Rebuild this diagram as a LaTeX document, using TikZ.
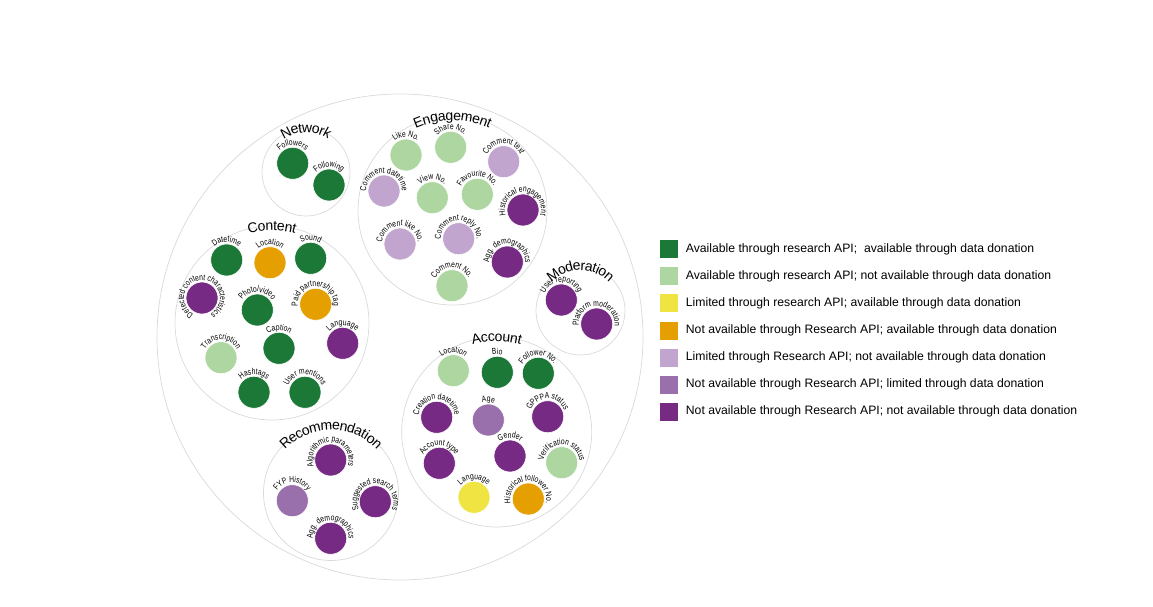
\documentclass[tikz,border=0pt]{standalone}
\usepackage{fontspec}
\setmainfont{Liberation Sans}
\newfontfamily\labelfont{Liberation Sans}[FakeStretch=0.78]
\usetikzlibrary{positioning,decorations.text}
\definecolor{dkgreen}{HTML}{1B7837}
\definecolor{ltgreen}{HTML}{AED6A1}
\definecolor{ylw}{HTML}{F0E442}
\definecolor{orng}{HTML}{E69F00}
\definecolor{ltpurple}{HTML}{C2A5CF}
\definecolor{mdpurple}{HTML}{9970AB}
\definecolor{dkpurple}{HTML}{762A83}
\tikzset{
  groupring/.style={circle,draw=black!15,line width=0.7pt,inner sep=0pt,outer sep=0pt},
  attrdot/.style={circle,draw=white,line width=0.6pt,minimum size=32pt,inner sep=0pt},
  attrlabel/.style={postaction={decorate},decoration={text along path,text align=center,text={|\labelfont\fontsize{8.6}{9}\selectfont|#1}}},
  grouptitle/.style={postaction={decorate},decoration={text along path,text align=center,raise=-4.5pt,text={|\fontsize{14}{16}\selectfont|#1}}},
  legendbox/.style={minimum size=18pt,inner sep=0pt},
  legendtext/.style={font=\fontsize{12.2}{14}\selectfont,inner sep=0pt,anchor=west,text height=1.5ex,text depth=.3ex}
}
\begin{document}
\begin{tikzpicture}[x=1pt,y=1pt]
\useasboundingbox (0,0) rectangle (1153,606);
% packed circles
\node[groupring,minimum size=486pt] (whole) at (400,269) {};
\node[groupring,minimum size=88pt] (network) at (306,434) {};
\node[groupring,minimum size=189pt] (engagement) at (452.5,395.5) {};
\node[groupring,minimum size=194pt] (content) at (272,283) {};
\node[groupring,minimum size=89pt] (moderation) at (580.5,295.5) {};
\node[groupring,minimum size=190pt] (account) at (496.7,174) {};
\node[groupring,minimum size=135pt] (recommendation) at (331,113) {};
\path[grouptitle={Network}] ([shift={(265:44pt)}]network.center) arc[start angle=265,end angle=-85,radius=44pt];
\path[grouptitle={Engagement}] ([shift={(265:94.5pt)}]engagement.center) arc[start angle=265,end angle=-85,radius=94.5pt];
\path[grouptitle={Content}] ([shift={(265:97pt)}]content.center) arc[start angle=265,end angle=-85,radius=97pt];
\path[grouptitle={Moderation}] ([shift={(265:44.5pt)}]moderation.center) arc[start angle=265,end angle=-85,radius=44.5pt];
\path[grouptitle={Account}] ([shift={(265:95pt)}]account.center) arc[start angle=265,end angle=-85,radius=95pt];
\path[grouptitle={Recommendation}] ([shift={(265:67.5pt)}]recommendation.center) arc[start angle=265,end angle=-85,radius=67.5pt];
% network
\node[attrdot,fill=dkgreen] (net-followers) at (292.7,442.7) {};
\path[attrlabel={Followers}] ([shift={(265:18pt)}]net-followers.center) arc[start angle=265,end angle=-85,radius=18pt];
\node[attrdot,fill=dkgreen] (net-following) at (329,421) {};
\path[attrlabel={Following}] ([shift={(265:18pt)}]net-following.center) arc[start angle=265,end angle=-85,radius=18pt];
% engagement
\node[attrdot,fill=ltgreen] (eng-like) at (406,451) {};
\path[attrlabel={Like No.}] ([shift={(265:18pt)}]eng-like.center) arc[start angle=265,end angle=-85,radius=18pt];
\node[attrdot,fill=ltgreen] (eng-share) at (450.7,458.7) {};
\path[attrlabel={Share No.}] ([shift={(265:18pt)}]eng-share.center) arc[start angle=265,end angle=-85,radius=18pt];
\node[attrdot,fill=ltpurple] (eng-ctext) at (503.7,444.3) {};
\path[attrlabel={Comment text}] ([shift={(265:18pt)}]eng-ctext.center) arc[start angle=265,end angle=-85,radius=18pt];
\node[attrdot,fill=ltpurple] (eng-cdate) at (384,415) {};
\path[attrlabel={Comment datetime}] ([shift={(265:18pt)}]eng-cdate.center) arc[start angle=265,end angle=-85,radius=18pt];
\node[attrdot,fill=ltgreen] (eng-view) at (432.3,408.3) {};
\path[attrlabel={View No.}] ([shift={(265:18pt)}]eng-view.center) arc[start angle=265,end angle=-85,radius=18pt];
\node[attrdot,fill=ltgreen] (eng-fav) at (477.3,411.7) {};
\path[attrlabel={Favourite No.}] ([shift={(265:18pt)}]eng-fav.center) arc[start angle=265,end angle=-85,radius=18pt];
\node[attrdot,fill=dkpurple] (eng-hist) at (523,396) {};
\path[attrlabel={Historical engagement}] ([shift={(265:18pt)}]eng-hist.center) arc[start angle=265,end angle=-85,radius=18pt];
\node[attrdot,fill=ltpurple] (eng-clike) at (400,362) {};
\path[attrlabel={Comment like No.}] ([shift={(265:18pt)}]eng-clike.center) arc[start angle=265,end angle=-85,radius=18pt];
\node[attrdot,fill=ltpurple] (eng-creply) at (458.7,367.3) {};
\path[attrlabel={Comment reply No.}] ([shift={(265:18pt)}]eng-creply.center) arc[start angle=265,end angle=-85,radius=18pt];
\node[attrdot,fill=dkpurple] (eng-demo) at (507.3,344) {};
\path[attrlabel={Agg. demographics}] ([shift={(265:18pt)}]eng-demo.center) arc[start angle=265,end angle=-85,radius=18pt];
\node[attrdot,fill=ltgreen] (eng-cno) at (452,320.3) {};
\path[attrlabel={Comment No.}] ([shift={(265:18pt)}]eng-cno.center) arc[start angle=265,end angle=-85,radius=18pt];
% content
\node[attrdot,fill=dkgreen] (con-date) at (226.7,346) {};
\path[attrlabel={Datetime}] ([shift={(265:18pt)}]con-date.center) arc[start angle=265,end angle=-85,radius=18pt];
\node[attrdot,fill=orng] (con-loc) at (270,343.3) {};
\path[attrlabel={Location}] ([shift={(265:18pt)}]con-loc.center) arc[start angle=265,end angle=-85,radius=18pt];
\node[attrdot,fill=dkgreen] (con-sound) at (310.7,347.7) {};
\path[attrlabel={Sound}] ([shift={(265:18pt)}]con-sound.center) arc[start angle=265,end angle=-85,radius=18pt];
\node[attrdot,fill=dkpurple] (con-detect) at (202,308) {};
\path[attrlabel={Detected content characteristics}] ([shift={(265:18pt)}]con-detect.center) arc[start angle=265,end angle=-85,radius=18pt];
\node[attrdot,fill=dkgreen] (con-photo) at (257.3,296) {};
\path[attrlabel={Photo/video}] ([shift={(265:18pt)}]con-photo.center) arc[start angle=265,end angle=-85,radius=18pt];
\node[attrdot,fill=orng] (con-paid) at (315.7,301.7) {};
\path[attrlabel={Paid partnership tag}] ([shift={(265:18pt)}]con-paid.center) arc[start angle=265,end angle=-85,radius=18pt];
\node[attrdot,fill=dkpurple] (con-lang) at (342.7,262.7) {};
\path[attrlabel={Language}] ([shift={(265:18pt)}]con-lang.center) arc[start angle=265,end angle=-85,radius=18pt];
\node[attrdot,fill=ltgreen] (con-trans) at (221,248.3) {};
\path[attrlabel={Transcription}] ([shift={(265:18pt)}]con-trans.center) arc[start angle=265,end angle=-85,radius=18pt];
\node[attrdot,fill=dkgreen] (con-caption) at (279,257.7) {};
\path[attrlabel={Caption}] ([shift={(265:18pt)}]con-caption.center) arc[start angle=265,end angle=-85,radius=18pt];
\node[attrdot,fill=dkgreen] (con-hash) at (254,213.7) {};
\path[attrlabel={Hashtags}] ([shift={(265:18pt)}]con-hash.center) arc[start angle=265,end angle=-85,radius=18pt];
\node[attrdot,fill=dkgreen] (con-mention) at (305,213.7) {};
\path[attrlabel={User mentions}] ([shift={(265:18pt)}]con-mention.center) arc[start angle=265,end angle=-85,radius=18pt];
% moderation
\node[attrdot,fill=dkpurple] (mod-report) at (561.3,306) {};
\path[attrlabel={User reporting}] ([shift={(265:18pt)}]mod-report.center) arc[start angle=265,end angle=-85,radius=18pt];
\node[attrdot,fill=dkpurple] (mod-platform) at (596.7,282) {};
\path[attrlabel={Platform moderation}] ([shift={(265:18pt)}]mod-platform.center) arc[start angle=265,end angle=-85,radius=18pt];
% account
\node[attrdot,fill=ltgreen] (acc-loc) at (453.3,235.3) {};
\path[attrlabel={Location}] ([shift={(265:18pt)}]acc-loc.center) arc[start angle=265,end angle=-85,radius=18pt];
\node[attrdot,fill=dkgreen] (acc-bio) at (497.3,233.7) {};
\path[attrlabel={Bio}] ([shift={(265:18pt)}]acc-bio.center) arc[start angle=265,end angle=-85,radius=18pt];
\node[attrdot,fill=dkgreen] (acc-fno) at (538.3,232.7) {};
\path[attrlabel={Follower No.}] ([shift={(265:18pt)}]acc-fno.center) arc[start angle=265,end angle=-85,radius=18pt];
\node[attrdot,fill=dkpurple] (acc-created) at (436.7,188.7) {};
\path[attrlabel={Creation datetime}] ([shift={(265:18pt)}]acc-created.center) arc[start angle=265,end angle=-85,radius=18pt];
\node[attrdot,fill=mdpurple] (acc-age) at (488.3,186) {};
\path[attrlabel={Age}] ([shift={(265:18pt)}]acc-age.center) arc[start angle=265,end angle=-85,radius=18pt];
\node[attrdot,fill=dkpurple] (acc-gpppa) at (547.7,189.3) {};
\path[attrlabel={GPPPA status}] ([shift={(265:18pt)}]acc-gpppa.center) arc[start angle=265,end angle=-85,radius=18pt];
\node[attrdot,fill=dkpurple] (acc-type) at (439.3,142.7) {};
\path[attrlabel={Account type}] ([shift={(265:18pt)}]acc-type.center) arc[start angle=265,end angle=-85,radius=18pt];
\node[attrdot,fill=dkpurple] (acc-gender) at (510,150) {};
\path[attrlabel={Gender}] ([shift={(265:18pt)}]acc-gender.center) arc[start angle=265,end angle=-85,radius=18pt];
\node[attrdot,fill=ltgreen] (acc-verif) at (561.7,143.3) {};
\path[attrlabel={Verification status}] ([shift={(265:18pt)}]acc-verif.center) arc[start angle=265,end angle=-85,radius=18pt];
\node[attrdot,fill=ylw] (acc-lang) at (474,108.7) {};
\path[attrlabel={Language}] ([shift={(265:18pt)}]acc-lang.center) arc[start angle=265,end angle=-85,radius=18pt];
\node[attrdot,fill=orng] (acc-histfno) at (528.3,107) {};
\path[attrlabel={Historical follower No.}] ([shift={(265:18pt)}]acc-histfno.center) arc[start angle=265,end angle=-85,radius=18pt];
% recommendation
\node[attrdot,fill=dkpurple] (rec-algo) at (330.7,146) {};
\path[attrlabel={Algorithmic parameters}] ([shift={(265:18pt)}]rec-algo.center) arc[start angle=265,end angle=-85,radius=18pt];
\node[attrdot,fill=mdpurple] (rec-fyp) at (292.3,105.3) {};
\path[attrlabel={FYP History}] ([shift={(265:18pt)}]rec-fyp.center) arc[start angle=265,end angle=-85,radius=18pt];
\node[attrdot,fill=dkpurple] (rec-search) at (375.3,104.3) {};
\path[attrlabel={Suggested search terms}] ([shift={(265:18pt)}]rec-search.center) arc[start angle=265,end angle=-85,radius=18pt];
\node[attrdot,fill=dkpurple] (rec-demo) at (330.7,67.7) {};
\path[attrlabel={Agg. demographics}] ([shift={(265:18pt)}]rec-demo.center) arc[start angle=265,end angle=-85,radius=18pt];
% legend
\node[legendbox,fill=dkgreen] (key1) at (668.5,356.8) {};
\node[legendbox,fill=ltgreen,below=8.7pt of key1] (key2) {};
\node[legendbox,fill=ylw,below=8.7pt of key2] (key3) {};
\node[legendbox,fill=orng,below=8.7pt of key3] (key4) {};
\node[legendbox,fill=ltpurple,below=8.7pt of key4] (key5) {};
\node[legendbox,fill=mdpurple,below=8.7pt of key5] (key6) {};
\node[legendbox,fill=dkpurple,below=8.7pt of key6] (key7) {};
\node[legendtext,right=8pt of key1] (text1) {Available through research API; \ available through data donation};
\node[legendtext,right=8pt of key2] (text2) {Available through research API; not available through data donation};
\node[legendtext,right=8pt of key3] (text3) {Limited through research API; available through data donation};
\node[legendtext,right=8pt of key4] (text4) {Not available through Research API; available through data donation};
\node[legendtext,right=8pt of key5] (text5) {Limited through Research API; not available through data donation};
\node[legendtext,right=8pt of key6] (text6) {Not available through Research API; limited through data donation};
\node[legendtext,right=8pt of key7] (text7) {Not available through Research API; not available through data donation};
\end{tikzpicture}
\end{document}
